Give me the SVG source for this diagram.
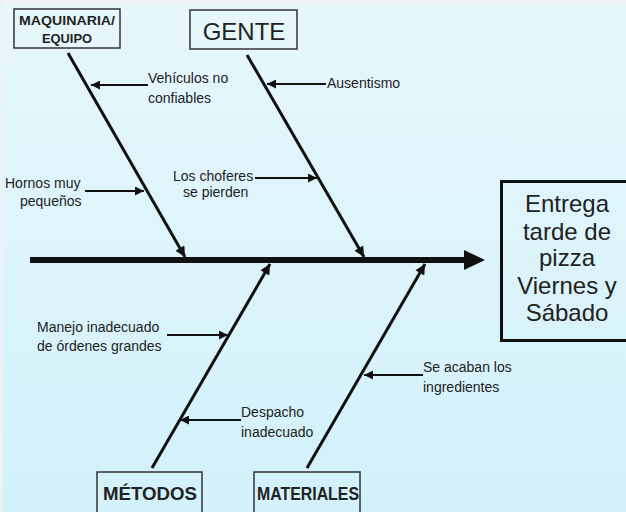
<svg xmlns="http://www.w3.org/2000/svg" width="626" height="512" viewBox="0 0 626 512">
<defs>
<linearGradient id="bg" x1="0" y1="0" x2="0" y2="1">
<stop offset="0" stop-color="#e6f7fb"/>
<stop offset="1" stop-color="#d2f1fa"/>
</linearGradient>
<marker id="ah" viewBox="0 0 10 10" refX="10" refY="5" markerWidth="4.3" markerHeight="3.4" orient="auto" markerUnits="strokeWidth">
<path d="M0,0 L10,5 L0,10 z" fill="#111"/>
</marker>
<marker id="sh" viewBox="0 0 10 10" refX="10" refY="5" markerWidth="5.5" markerHeight="4.5" orient="auto" markerUnits="strokeWidth">
<path d="M0,0 L10,5 L0,10 z" fill="#111"/>
</marker>
</defs>
<style>
.box{fill:none;stroke:#333;stroke-width:1.5}
.lbl{font-family:"Liberation Sans",Arial,sans-serif;font-size:14px;fill:#222}
.bold{font-family:"Liberation Sans",Arial,sans-serif;font-weight:bold;fill:#222}
.bone{stroke:#111;stroke-width:3;fill:none}
.sub{stroke:#111;stroke-width:2;fill:none}
.eff{font-family:"Liberation Sans",Arial,sans-serif;font-size:24px;fill:#222;text-anchor:middle}
</style>
<rect x="0" y="0" width="626" height="512" fill="url(#bg)"/>
<rect x="0" y="0" width="626" height="6" fill="#eef4f6"/>
<rect x="0" y="0" width="3" height="512" fill="#e9f2f4"/>

<g id="connectors">
<line x1="30" y1="260" x2="470" y2="260" stroke="#111" stroke-width="6"/>
<path d="M464,250 L485,260 L464,270 z" fill="#111"/>
<line class="bone" x1="68" y1="53" x2="185" y2="257" marker-end="url(#ah)"/>
<line class="bone" x1="247" y1="55" x2="364" y2="257" marker-end="url(#ah)"/>
<line class="bone" x1="152" y1="468" x2="270" y2="264" marker-end="url(#ah)"/>
<line class="bone" x1="307" y1="468" x2="425" y2="264" marker-end="url(#ah)"/>
<line class="sub" x1="148" y1="85" x2="91" y2="85" marker-end="url(#sh)"/>
<line class="sub" x1="326" y1="84" x2="267" y2="84" marker-end="url(#sh)"/>
<line class="sub" x1="85" y1="191" x2="144" y2="191" marker-end="url(#sh)"/>
<line class="sub" x1="255" y1="178" x2="317" y2="178" marker-end="url(#sh)"/>
<line class="sub" x1="167" y1="335" x2="228" y2="335" marker-end="url(#sh)"/>
<line class="sub" x1="241" y1="420" x2="180" y2="420" marker-end="url(#sh)"/>
<line class="sub" x1="423" y1="375" x2="364" y2="375" marker-end="url(#sh)"/>
</g>

<g id="maquinaria">
<rect class="box" x="14" y="9" width="106" height="39"/>
<text class="bold" x="67" y="25" font-size="13" text-anchor="middle" textLength="96" lengthAdjust="spacingAndGlyphs">MAQUINARIA/</text>
<text class="bold" x="67" y="43" font-size="13" text-anchor="middle" textLength="50" lengthAdjust="spacingAndGlyphs">EQUIPO</text>
</g>
<g id="gente">
<rect class="box" x="190" y="10" width="107" height="39"/>
<text x="244" y="40" font-family="Liberation Sans, Arial, sans-serif" font-size="24" fill="#222" text-anchor="middle">GENTE</text>
</g>
<g id="metodos">
<rect class="box" x="97" y="472" width="105" height="45"/>
<text class="bold" x="150" y="500" font-size="19" text-anchor="middle" textLength="94" lengthAdjust="spacingAndGlyphs">MÉTODOS</text>
</g>
<g id="materiales">
<rect class="box" x="254" y="472" width="106" height="45"/>
<text class="bold" x="308" y="500" font-size="18" text-anchor="middle" textLength="102" lengthAdjust="spacingAndGlyphs">MATERIALES</text>
</g>
<g id="efecto">
<rect x="501.5" y="181.5" width="126" height="159" fill="none" stroke="#111" stroke-width="3"/>
<text class="eff" x="567" y="212">Entrega</text>
<text class="eff" x="567" y="240">tarde de</text>
<text class="eff" x="567" y="266">pizza</text>
<text class="eff" x="567" y="294">Viernes y</text>
<text class="eff" x="567" y="321">Sábado</text>
</g>

<g id="causa-vehiculos"><text class="lbl" x="148" y="83">Vehículos no</text><text class="lbl" x="148" y="103">confiables</text></g>
<g id="causa-ausentismo"><text class="lbl" x="327" y="88">Ausentismo</text></g>
<g id="causa-hornos"><text class="lbl" x="5" y="188">Hornos muy</text><text class="lbl" x="20" y="206">pequeños</text></g>
<g id="causa-choferes"><text class="lbl" x="173" y="181">Los choferes</text><text class="lbl" x="183" y="197">se pierden</text></g>
<g id="causa-manejo"><text class="lbl" x="37" y="332">Manejo inadecuado</text><text class="lbl" x="37" y="351">de órdenes grandes</text></g>
<g id="causa-despacho"><text class="lbl" x="241" y="417">Despacho</text><text class="lbl" x="241" y="437">inadecuado</text></g>
<g id="causa-ingredientes"><text class="lbl" x="423" y="372">Se acaban los</text><text class="lbl" x="423" y="392">ingredientes</text></g>
</svg>
